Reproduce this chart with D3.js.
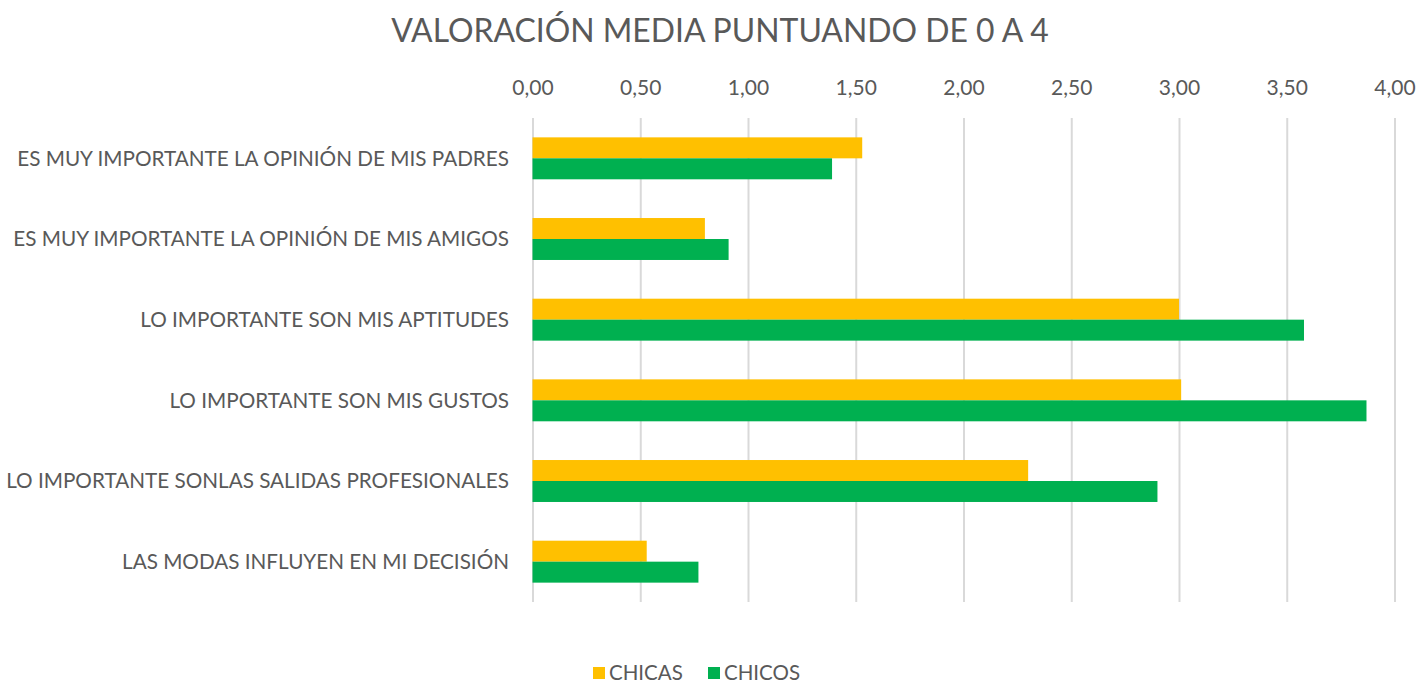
<!DOCTYPE html>
<html>
<head>
<meta charset="utf-8">
<script src="https://cdn.jsdelivr.net/npm/d3@7"></script>
<style>
  body { margin: 0; background: #fff; }
  svg { display: block; font-family: Lato, "Open Sans", sans-serif; }
</style>
</head>
<body>
<svg></svg>
<script>
var categories = [
  'ES MUY IMPORTANTE LA OPINIÓN DE MIS PADRES',
  'ES MUY IMPORTANTE LA OPINIÓN DE MIS AMIGOS',
  'LO IMPORTANTE SON MIS APTITUDES',
  'LO IMPORTANTE SON MIS GUSTOS',
  'LO IMPORTANTE SONLAS SALIDAS PROFESIONALES',
  'LAS MODAS INFLUYEN EN MI DECISIÓN'
];
var chicas = [1.53, 0.80, 3.00, 3.01, 2.30, 0.53];
var chicos = [1.39, 0.91, 3.58, 3.87, 2.90, 0.77];
var seriesNames = ['CHICAS', 'CHICOS'];
var seriesColors = ['#FFC000', '#00B050'];
var tickValues = [0, 0.5, 1, 1.5, 2, 2.5, 3, 3.5, 4];

var width = 1420;
var height = 683;
var plotLeft = 532.5, plotRight = 1394.5, plotTop = 118, plotBottom = 602;

var svg = d3.select('svg')
  .attr('width', width)
  .attr('height', height);

var xScale = d3.scaleLinear()
  .domain([0, 4])
  .range([plotLeft, plotRight]);

var yScale = d3.scaleBand()
  .domain(categories)
  .range([plotTop, plotBottom])
  .paddingInner(0.48)
  .paddingOuter(0.24);

var inner = d3.scaleBand()
  .domain(seriesNames)
  .range([0, yScale.bandwidth()]);

// title
svg.append('text')
  .attr('x', 720)
  .attr('y', 42)
  .attr('text-anchor', 'middle')
  .attr('fill', '#595959')
  .style('font-size', '31.9px')
  .text('VALORACIÓN MEDIA PUNTUANDO DE 0 A 4');

// gridlines + top tick labels
var xAxis = d3.axisTop(xScale)
  .tickValues(tickValues)
  .tickSize(-(plotBottom - plotTop))
  .tickSizeOuter(0)
  .tickFormat(d => d3.format('.2f')(d).replace('.', ','));

var gx = svg.append('g')
  .attr('transform', 'translate(0,' + plotTop + ')')
  .call(xAxis);
gx.select('.domain').remove();
gx.selectAll('.tick line')
  .attr('stroke', '#d9d9d9')
  .attr('stroke-width', 2);
gx.selectAll('.tick text')
  .attr('y', -23)
  .attr('fill', '#595959')
  .style('font-size', '21px')
  .style('font-family', 'Lato, sans-serif');

// bars
var rows = categories.map((c, i) => ({ cat: c, values: [chicas[i], chicos[i]] }));

var groups = svg.append('g')
  .selectAll('g')
  .data(rows)
  .enter()
  .append('g')
  .attr('transform', d => 'translate(0,' + yScale(d.cat) + ')');

groups.selectAll('rect')
  .data(d => d.values.map((v, j) => ({ name: seriesNames[j], value: v, color: seriesColors[j] })))
  .enter()
  .append('rect')
  .attr('x', xScale(0))
  .attr('y', d => inner(d.name))
  .attr('width', d => xScale(d.value) - xScale(0))
  .attr('height', inner.bandwidth())
  .attr('fill', d => d.color);

// category labels
svg.append('g')
  .selectAll('text')
  .data(categories)
  .enter()
  .append('text')
  .attr('x', 509)
  .attr('y', d => yScale(d) + yScale.bandwidth() / 2)
  .attr('dy', '0.35em')
  .attr('text-anchor', 'end')
  .attr('fill', '#595959')
  .style('font-size', '20.7px')
  .text(d => d);

// legend
var legend = svg.append('g')
  .attr('transform', 'translate(593,673)');
var legendX = [0, 115];
seriesNames.forEach((name, i) => {
  legend.append('rect')
    .attr('x', legendX[i])
    .attr('y', -6)
    .attr('width', 12)
    .attr('height', 12)
    .attr('fill', seriesColors[i]);
  legend.append('text')
    .attr('x', legendX[i] + 16)
    .attr('y', 0)
    .attr('dy', '0.35em')
    .attr('fill', '#595959')
    .style('font-size', '20.5px')
    .text(name);
});
</script>
</body>
</html>
